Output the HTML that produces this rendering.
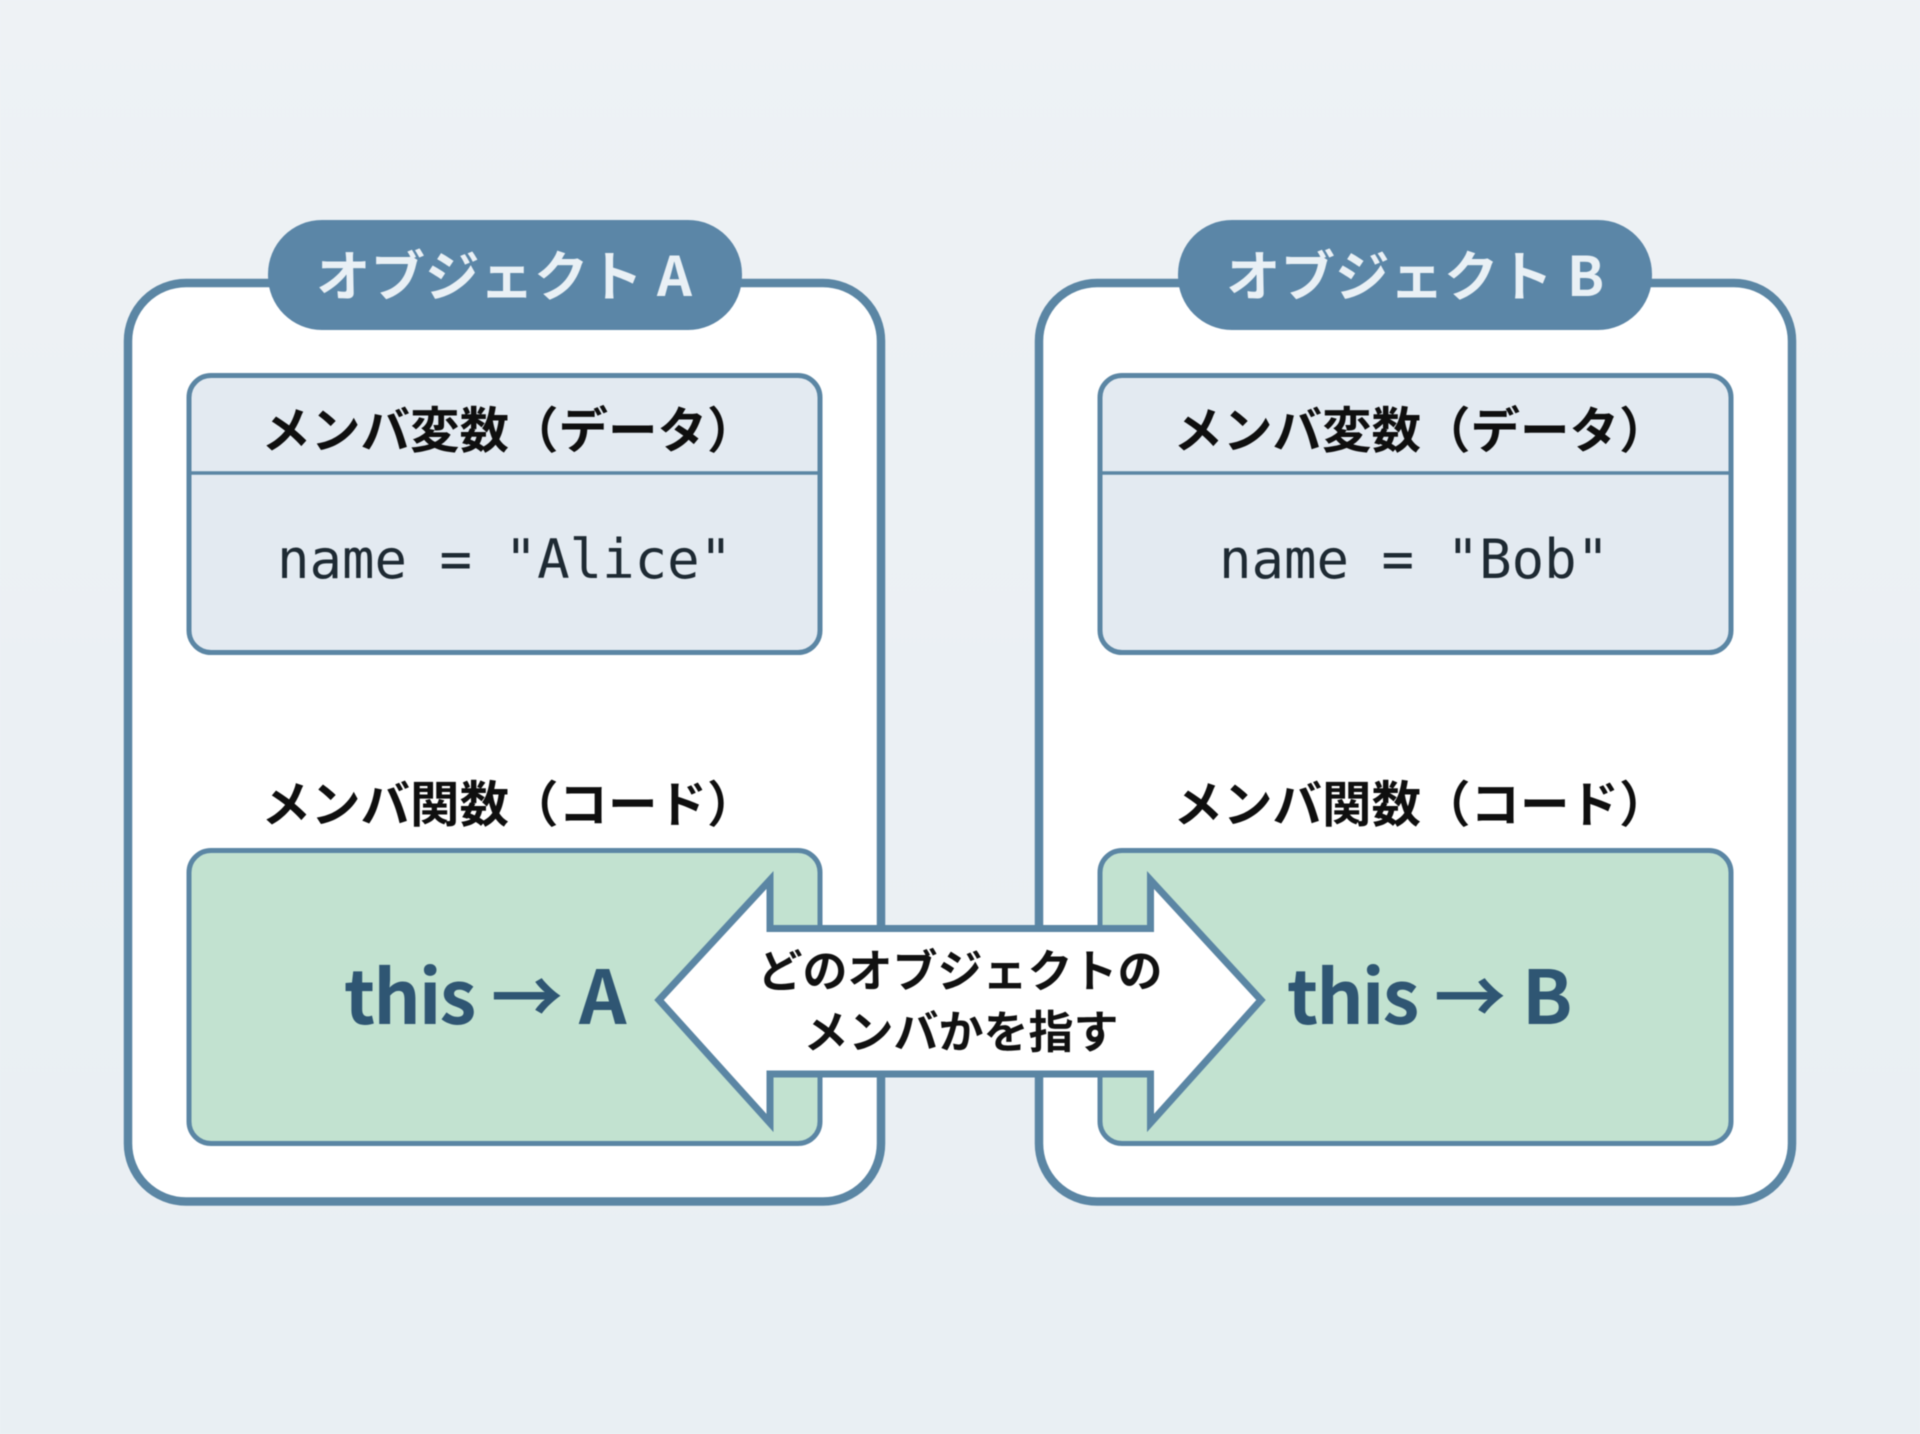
<!DOCTYPE html>
<html lang="ja"><head><meta charset="utf-8"><style>
html,body{margin:0;padding:0;width:1920px;height:1434px;overflow:hidden;background:#edf2f5}
svg{display:block;filter:blur(.45px)}
text{font-family:"Liberation Sans","Noto Sans CJK JP",sans-serif}
.jp{font-family:"Noto Sans CJK JP",sans-serif;font-weight:700}
.mono{font-family:"DejaVu Sans Mono","Liberation Mono",monospace;font-size:54px;fill:#1e2a33}
.h{font-size:49.500px;fill:#0f0f0f;text-anchor:middle}
.p{font-size:54.500px;fill:#e9f0f5}
.t{font-size:74px;fill:#2f5673}
</style></head><body>
<svg width="1920" height="1434" viewBox="0 0 1920 1434" xmlns="http://www.w3.org/2000/svg">
<defs>
<linearGradient id="bg" x1="0" y1="0" x2="0" y2="1"><stop offset="0" stop-color="#eef2f5"/><stop offset="1" stop-color="#e9eff3"/></linearGradient>
<g id="card">
<rect x="128" y="283" width="753" height="918.500" rx="58" fill="#fff" stroke="#5b86a4" stroke-width="8.500"/>
<rect x="189" y="375.500" width="631" height="277" rx="22" fill="#e3eaf1" stroke="#5b86a4" stroke-width="5"/>
<line x1="190" y1="473" x2="820" y2="473" stroke="#5b86a4" stroke-width="3.500"/>
<rect x="189" y="850.500" width="631" height="293" rx="22" fill="#c2e2d0" stroke="#5b86a4" stroke-width="5"/>
</g>
</defs>
<rect width="1920" height="1434" fill="url(#bg)"/>
<use href="#card"/>
<use href="#card" x="911"/>
<rect x="268" y="220" width="474" height="110" rx="54" fill="#5b86a7"/>
<rect x="1178" y="220" width="474" height="110" rx="54" fill="#5b86a7"/>

<text class="jp p" x="316" y="296">オブジェクト</text>
<text class="jp p" x="657" y="296">A</text>
<text class="jp p" x="1226" y="296">オブジェクト</text>
<text class="jp p" x="1567" y="296">B</text>

<text class="jp h" x="509" y="448">メンバ変数（データ）</text>
<text class="jp h" x="1421" y="448">メンバ変数（データ）</text>
<text class="jp h" x="509" y="822">メンバ関数（コード）</text>
<text class="jp h" x="1421" y="822">メンバ関数（コード）</text>

<text class="mono" x="277" y="578">name = "Alice"</text>
<text class="mono" x="1219" y="578">name = "Bob"</text>

<text class="jp t" x="344" y="1024" letter-spacing="-1.800">this</text>
<text class="jp t" x="491" y="1024" textLength="72" lengthAdjust="spacingAndGlyphs">→</text>
<text class="jp t" x="579" y="1024">A</text>
<text class="jp t" x="1287" y="1024" letter-spacing="-1.800">this</text>
<text class="jp t" x="1434" y="1024" textLength="72" lengthAdjust="spacingAndGlyphs">→</text>
<text class="jp t" x="1522" y="1024">B</text>

<polygon points="659,1000 770,880 770,928.500 1150.500,928.500 1150.500,880 1261,1000 1150.500,1123 1150.500,1074 770,1074 770,1123" fill="#fff" stroke="#5b86a4" stroke-width="7" stroke-linejoin="miter" stroke-miterlimit="10"/>
<text class="jp" x="960" y="987" font-size="45" fill="#111" text-anchor="middle">どのオブジェクトの</text>
<text class="jp" x="961" y="1048" font-size="45" fill="#111" text-anchor="middle">メンバかを指す</text>
</svg>
</body></html>
